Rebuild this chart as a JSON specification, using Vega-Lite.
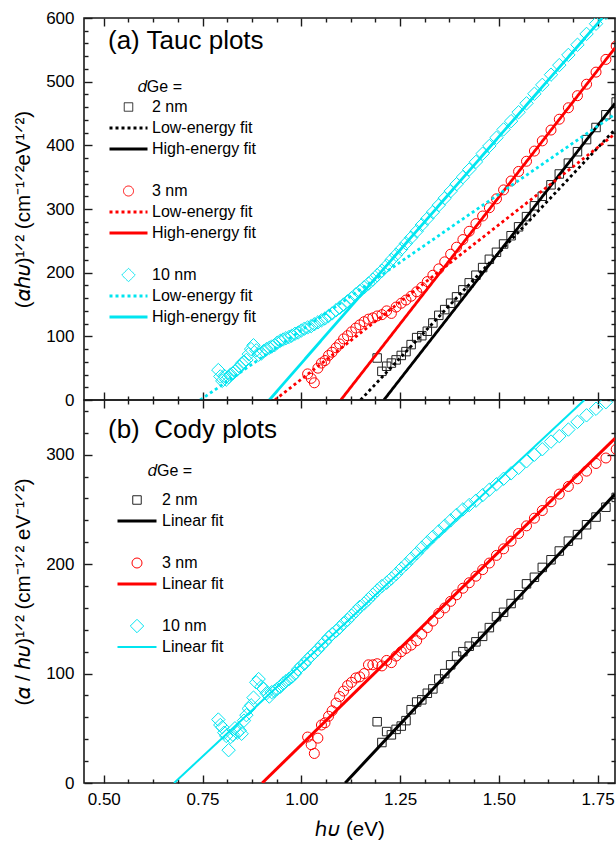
{
  "$schema": "https://vega.github.io/schema/vega-lite/v6.json",
  "padding": {"left": 12, "top": 8, "right": 0, "bottom": 2},
  "spacing": 0,
  "bounds": "flush",
  "config": {
    "font": "Liberation Sans",
    "view": {"stroke": "#1a1a1a", "strokeWidth": 1.6},
    "axis": {"grid": false, "domain": false, "tickColor": "#1a1a1a", "tickWidth": 1.4, "labelColor": "#000", "labelFontSize": 17, "labelFont": "Liberation Sans", "titleColor": "#000", "titleFontSize": 20.5, "titleFontWeight": "normal", "titleFont": "Liberation Sans"}
  },
  "resolve": {"scale": {"color": "independent", "shape": "independent", "size": "independent", "strokeDash": "independent", "strokeWidth": "independent"}},
  "datasets": {
    "tauc_pts": [
      {"E":1.797,"y":468,"s":"2 nm"},{"E":1.771,"y":448,"s":"2 nm"},{"E":1.746,"y":428,"s":"2 nm"},{"E":1.722,"y":409,"s":"2 nm"},{"E":1.699,"y":390,"s":"2 nm"},{"E":1.676,"y":372,"s":"2 nm"},{"E":1.653,"y":355,"s":"2 nm"},{"E":1.632,"y":338,"s":"2 nm"},{"E":1.610,"y":320,"s":"2 nm"},{"E":1.590,"y":305,"s":"2 nm"},{"E":1.570,"y":288,"s":"2 nm"},{"E":1.550,"y":272,"s":"2 nm"},{"E":1.531,"y":258,"s":"2 nm"},{"E":1.512,"y":245,"s":"2 nm"},{"E":1.494,"y":232,"s":"2 nm"},{"E":1.476,"y":221,"s":"2 nm"},{"E":1.459,"y":208,"s":"2 nm"},{"E":1.442,"y":196,"s":"2 nm"},{"E":1.425,"y":184,"s":"2 nm"},{"E":1.409,"y":173,"s":"2 nm"},{"E":1.393,"y":162,"s":"2 nm"},{"E":1.378,"y":152,"s":"2 nm"},{"E":1.363,"y":142,"s":"2 nm"},{"E":1.348,"y":133,"s":"2 nm"},{"E":1.333,"y":121,"s":"2 nm"},{"E":1.319,"y":108,"s":"2 nm"},{"E":1.305,"y":101,"s":"2 nm"},{"E":1.292,"y":98,"s":"2 nm"},{"E":1.278,"y":87,"s":"2 nm"},{"E":1.265,"y":76,"s":"2 nm"},{"E":1.253,"y":70,"s":"2 nm"},{"E":1.240,"y":63,"s":"2 nm"},{"E":1.228,"y":58,"s":"2 nm"},{"E":1.216,"y":53,"s":"2 nm"},{"E":1.204,"y":45,"s":"2 nm"},{"E":1.192,"y":66,"s":"2 nm"},
      {"E":1.797,"y":556,"s":"3 nm"},{"E":1.771,"y":535,"s":"3 nm"},{"E":1.746,"y":515,"s":"3 nm"},{"E":1.722,"y":496,"s":"3 nm"},{"E":1.699,"y":478,"s":"3 nm"},{"E":1.676,"y":459,"s":"3 nm"},{"E":1.653,"y":441,"s":"3 nm"},{"E":1.632,"y":424,"s":"3 nm"},{"E":1.610,"y":407,"s":"3 nm"},{"E":1.590,"y":391,"s":"3 nm"},{"E":1.570,"y":375,"s":"3 nm"},{"E":1.550,"y":359,"s":"3 nm"},{"E":1.531,"y":344,"s":"3 nm"},{"E":1.512,"y":330,"s":"3 nm"},{"E":1.494,"y":316,"s":"3 nm"},{"E":1.476,"y":302,"s":"3 nm"},{"E":1.459,"y":289,"s":"3 nm"},{"E":1.442,"y":277,"s":"3 nm"},{"E":1.425,"y":265,"s":"3 nm"},{"E":1.409,"y":252,"s":"3 nm"},{"E":1.393,"y":240,"s":"3 nm"},{"E":1.378,"y":229,"s":"3 nm"},{"E":1.363,"y":217,"s":"3 nm"},{"E":1.348,"y":206,"s":"3 nm"},{"E":1.333,"y":196,"s":"3 nm"},{"E":1.319,"y":186,"s":"3 nm"},{"E":1.305,"y":177,"s":"3 nm"},{"E":1.292,"y":170,"s":"3 nm"},{"E":1.278,"y":163,"s":"3 nm"},{"E":1.265,"y":157,"s":"3 nm"},{"E":1.253,"y":152,"s":"3 nm"},{"E":1.240,"y":146,"s":"3 nm"},{"E":1.228,"y":136,"s":"3 nm"},{"E":1.216,"y":140,"s":"3 nm"},{"E":1.204,"y":134,"s":"3 nm"},{"E":1.192,"y":132,"s":"3 nm"},{"E":1.181,"y":129,"s":"3 nm"},{"E":1.170,"y":127,"s":"3 nm"},{"E":1.159,"y":123,"s":"3 nm"},{"E":1.148,"y":118,"s":"3 nm"},{"E":1.138,"y":113,"s":"3 nm"},{"E":1.127,"y":107,"s":"3 nm"},{"E":1.117,"y":101,"s":"3 nm"},{"E":1.107,"y":96,"s":"3 nm"},{"E":1.097,"y":88,"s":"3 nm"},{"E":1.088,"y":82,"s":"3 nm"},{"E":1.078,"y":75,"s":"3 nm"},{"E":1.069,"y":70,"s":"3 nm"},{"E":1.060,"y":62,"s":"3 nm"},{"E":1.051,"y":58,"s":"3 nm"},{"E":1.042,"y":50,"s":"3 nm"},{"E":1.033,"y":27,"s":"3 nm"},{"E":1.025,"y":34,"s":"3 nm"},{"E":1.016,"y":41,"s":"3 nm"},
      {"E":1.797,"y":626,"s":"10 nm"},{"E":1.771,"y":608,"s":"10 nm"},{"E":1.746,"y":591,"s":"10 nm"},{"E":1.722,"y":575,"s":"10 nm"},{"E":1.699,"y":558,"s":"10 nm"},{"E":1.676,"y":542,"s":"10 nm"},{"E":1.653,"y":526,"s":"10 nm"},{"E":1.632,"y":511,"s":"10 nm"},{"E":1.610,"y":495,"s":"10 nm"},{"E":1.590,"y":481,"s":"10 nm"},{"E":1.570,"y":466,"s":"10 nm"},{"E":1.550,"y":452,"s":"10 nm"},{"E":1.531,"y":438,"s":"10 nm"},{"E":1.512,"y":425,"s":"10 nm"},{"E":1.494,"y":412,"s":"10 nm"},{"E":1.476,"y":399,"s":"10 nm"},{"E":1.459,"y":387,"s":"10 nm"},{"E":1.442,"y":374,"s":"10 nm"},{"E":1.425,"y":362,"s":"10 nm"},{"E":1.409,"y":350,"s":"10 nm"},{"E":1.393,"y":339,"s":"10 nm"},{"E":1.378,"y":328,"s":"10 nm"},{"E":1.363,"y":317,"s":"10 nm"},{"E":1.348,"y":306,"s":"10 nm"},{"E":1.333,"y":295,"s":"10 nm"},{"E":1.319,"y":285,"s":"10 nm"},{"E":1.305,"y":275,"s":"10 nm"},{"E":1.292,"y":265,"s":"10 nm"},{"E":1.278,"y":255,"s":"10 nm"},{"E":1.265,"y":246,"s":"10 nm"},{"E":1.253,"y":237,"s":"10 nm"},{"E":1.240,"y":228,"s":"10 nm"},{"E":1.228,"y":220,"s":"10 nm"},{"E":1.216,"y":211,"s":"10 nm"},{"E":1.204,"y":203,"s":"10 nm"},{"E":1.192,"y":196,"s":"10 nm"},{"E":1.181,"y":189,"s":"10 nm"},{"E":1.170,"y":183,"s":"10 nm"},{"E":1.159,"y":177,"s":"10 nm"},{"E":1.148,"y":171,"s":"10 nm"},{"E":1.138,"y":166,"s":"10 nm"},{"E":1.127,"y":160,"s":"10 nm"},{"E":1.117,"y":155,"s":"10 nm"},{"E":1.107,"y":150,"s":"10 nm"},{"E":1.097,"y":145,"s":"10 nm"},{"E":1.088,"y":141,"s":"10 nm"},{"E":1.078,"y":136,"s":"10 nm"},{"E":1.069,"y":132,"s":"10 nm"},{"E":1.060,"y":128,"s":"10 nm"},{"E":1.051,"y":125,"s":"10 nm"},{"E":1.042,"y":122,"s":"10 nm"},{"E":1.033,"y":119,"s":"10 nm"},{"E":1.025,"y":116,"s":"10 nm"},{"E":1.016,"y":114,"s":"10 nm"},{"E":1.008,"y":112,"s":"10 nm"},{"E":1.000,"y":109,"s":"10 nm"},{"E":0.992,"y":106,"s":"10 nm"},{"E":0.984,"y":104,"s":"10 nm"},{"E":0.976,"y":101,"s":"10 nm"},{"E":0.969,"y":99,"s":"10 nm"},{"E":0.961,"y":97,"s":"10 nm"},{"E":0.954,"y":95,"s":"10 nm"},{"E":0.947,"y":93,"s":"10 nm"},{"E":0.939,"y":90,"s":"10 nm"},{"E":0.932,"y":86,"s":"10 nm"},{"E":0.925,"y":84,"s":"10 nm"},{"E":0.919,"y":82,"s":"10 nm"},{"E":0.912,"y":80,"s":"10 nm"},{"E":0.905,"y":77,"s":"10 nm"},{"E":0.899,"y":73,"s":"10 nm"},{"E":0.892,"y":71,"s":"10 nm"},{"E":0.886,"y":78,"s":"10 nm"},{"E":0.879,"y":86,"s":"10 nm"},{"E":0.873,"y":80,"s":"10 nm"},{"E":0.867,"y":72,"s":"10 nm"},{"E":0.861,"y":63,"s":"10 nm"},{"E":0.855,"y":60,"s":"10 nm"},{"E":0.849,"y":57,"s":"10 nm"},{"E":0.844,"y":52,"s":"10 nm"},{"E":0.838,"y":48,"s":"10 nm"},{"E":0.832,"y":45,"s":"10 nm"},{"E":0.827,"y":42,"s":"10 nm"},{"E":0.821,"y":40,"s":"10 nm"},{"E":0.816,"y":36,"s":"10 nm"},{"E":0.810,"y":32,"s":"10 nm"},{"E":0.805,"y":38,"s":"10 nm"},{"E":0.800,"y":30,"s":"10 nm"},{"E":0.795,"y":37,"s":"10 nm"},{"E":0.790,"y":47,"s":"10 nm"}
    ],
    "tauc_fit": [
      {"E":1.150,"y":0,"k":"2 nm Low-energy fit"},{"E":1.794,"y":425,"k":"2 nm Low-energy fit"},
      {"E":1.209,"y":0,"k":"2 nm High-energy fit"},{"E":1.794,"y":466,"k":"2 nm High-energy fit"},
      {"E":0.933,"y":0,"k":"3 nm Low-energy fit"},{"E":1.794,"y":418,"k":"3 nm Low-energy fit"},
      {"E":1.100,"y":0,"k":"3 nm High-energy fit"},{"E":1.794,"y":553,"k":"3 nm High-energy fit"},
      {"E":0.744,"y":0,"k":"10 nm Low-energy fit"},{"E":1.794,"y":449,"k":"10 nm Low-energy fit"},
      {"E":0.919,"y":0,"k":"10 nm High-energy fit"},{"E":1.762,"y":600,"k":"10 nm High-energy fit"}
    ],
    "cody_pts": [
      {"E":1.797,"y":261,"s":"2 nm"},{"E":1.771,"y":252,"s":"2 nm"},{"E":1.746,"y":243,"s":"2 nm"},{"E":1.722,"y":236,"s":"2 nm"},{"E":1.699,"y":227,"s":"2 nm"},{"E":1.676,"y":221,"s":"2 nm"},{"E":1.653,"y":212,"s":"2 nm"},{"E":1.632,"y":204,"s":"2 nm"},{"E":1.610,"y":197,"s":"2 nm"},{"E":1.590,"y":188,"s":"2 nm"},{"E":1.570,"y":182,"s":"2 nm"},{"E":1.550,"y":172,"s":"2 nm"},{"E":1.531,"y":164,"s":"2 nm"},{"E":1.512,"y":156,"s":"2 nm"},{"E":1.494,"y":152,"s":"2 nm"},{"E":1.476,"y":142,"s":"2 nm"},{"E":1.459,"y":134,"s":"2 nm"},{"E":1.442,"y":129,"s":"2 nm"},{"E":1.425,"y":125,"s":"2 nm"},{"E":1.409,"y":120,"s":"2 nm"},{"E":1.393,"y":116,"s":"2 nm"},{"E":1.378,"y":108,"s":"2 nm"},{"E":1.363,"y":100,"s":"2 nm"},{"E":1.348,"y":95,"s":"2 nm"},{"E":1.333,"y":86,"s":"2 nm"},{"E":1.319,"y":82,"s":"2 nm"},{"E":1.305,"y":76,"s":"2 nm"},{"E":1.292,"y":74,"s":"2 nm"},{"E":1.278,"y":67,"s":"2 nm"},{"E":1.265,"y":57,"s":"2 nm"},{"E":1.253,"y":52,"s":"2 nm"},{"E":1.240,"y":49,"s":"2 nm"},{"E":1.228,"y":44,"s":"2 nm"},{"E":1.216,"y":47,"s":"2 nm"},{"E":1.204,"y":37,"s":"2 nm"},{"E":1.192,"y":56,"s":"2 nm"},
      {"E":1.797,"y":305,"s":"3 nm"},{"E":1.771,"y":297,"s":"3 nm"},{"E":1.746,"y":292,"s":"3 nm"},{"E":1.722,"y":285,"s":"3 nm"},{"E":1.699,"y":278,"s":"3 nm"},{"E":1.676,"y":271,"s":"3 nm"},{"E":1.653,"y":264,"s":"3 nm"},{"E":1.632,"y":257,"s":"3 nm"},{"E":1.610,"y":249,"s":"3 nm"},{"E":1.590,"y":242,"s":"3 nm"},{"E":1.570,"y":235,"s":"3 nm"},{"E":1.550,"y":228,"s":"3 nm"},{"E":1.531,"y":221,"s":"3 nm"},{"E":1.512,"y":214,"s":"3 nm"},{"E":1.494,"y":208,"s":"3 nm"},{"E":1.476,"y":201,"s":"3 nm"},{"E":1.459,"y":195,"s":"3 nm"},{"E":1.442,"y":189,"s":"3 nm"},{"E":1.425,"y":183,"s":"3 nm"},{"E":1.409,"y":178,"s":"3 nm"},{"E":1.393,"y":172,"s":"3 nm"},{"E":1.378,"y":166,"s":"3 nm"},{"E":1.363,"y":160,"s":"3 nm"},{"E":1.348,"y":155,"s":"3 nm"},{"E":1.333,"y":148,"s":"3 nm"},{"E":1.319,"y":142,"s":"3 nm"},{"E":1.305,"y":136,"s":"3 nm"},{"E":1.292,"y":130,"s":"3 nm"},{"E":1.278,"y":126,"s":"3 nm"},{"E":1.265,"y":123,"s":"3 nm"},{"E":1.253,"y":120,"s":"3 nm"},{"E":1.240,"y":116,"s":"3 nm"},{"E":1.228,"y":110,"s":"3 nm"},{"E":1.216,"y":112,"s":"3 nm"},{"E":1.204,"y":107,"s":"3 nm"},{"E":1.192,"y":109,"s":"3 nm"},{"E":1.181,"y":108,"s":"3 nm"},{"E":1.170,"y":108,"s":"3 nm"},{"E":1.159,"y":100,"s":"3 nm"},{"E":1.148,"y":97,"s":"3 nm"},{"E":1.138,"y":96,"s":"3 nm"},{"E":1.127,"y":92,"s":"3 nm"},{"E":1.117,"y":89,"s":"3 nm"},{"E":1.107,"y":84,"s":"3 nm"},{"E":1.097,"y":79,"s":"3 nm"},{"E":1.088,"y":73,"s":"3 nm"},{"E":1.078,"y":66,"s":"3 nm"},{"E":1.069,"y":61,"s":"3 nm"},{"E":1.060,"y":55,"s":"3 nm"},{"E":1.051,"y":53,"s":"3 nm"},{"E":1.042,"y":41,"s":"3 nm"},{"E":1.033,"y":27,"s":"3 nm"},{"E":1.025,"y":35,"s":"3 nm"},{"E":1.016,"y":42,"s":"3 nm"},
      {"E":1.797,"y":355,"s":"10 nm"},{"E":1.771,"y":348,"s":"10 nm"},{"E":1.746,"y":342,"s":"10 nm"},{"E":1.722,"y":336,"s":"10 nm"},{"E":1.699,"y":330,"s":"10 nm"},{"E":1.676,"y":323,"s":"10 nm"},{"E":1.653,"y":317,"s":"10 nm"},{"E":1.632,"y":312,"s":"10 nm"},{"E":1.610,"y":305,"s":"10 nm"},{"E":1.590,"y":300,"s":"10 nm"},{"E":1.570,"y":294,"s":"10 nm"},{"E":1.550,"y":288,"s":"10 nm"},{"E":1.531,"y":283,"s":"10 nm"},{"E":1.512,"y":278,"s":"10 nm"},{"E":1.494,"y":273,"s":"10 nm"},{"E":1.476,"y":268,"s":"10 nm"},{"E":1.459,"y":263,"s":"10 nm"},{"E":1.442,"y":258,"s":"10 nm"},{"E":1.425,"y":254,"s":"10 nm"},{"E":1.409,"y":250,"s":"10 nm"},{"E":1.393,"y":245,"s":"10 nm"},{"E":1.378,"y":240,"s":"10 nm"},{"E":1.363,"y":235,"s":"10 nm"},{"E":1.348,"y":230,"s":"10 nm"},{"E":1.333,"y":225,"s":"10 nm"},{"E":1.319,"y":220,"s":"10 nm"},{"E":1.305,"y":215,"s":"10 nm"},{"E":1.292,"y":210,"s":"10 nm"},{"E":1.278,"y":205,"s":"10 nm"},{"E":1.265,"y":200,"s":"10 nm"},{"E":1.253,"y":196,"s":"10 nm"},{"E":1.240,"y":191,"s":"10 nm"},{"E":1.228,"y":187,"s":"10 nm"},{"E":1.216,"y":183,"s":"10 nm"},{"E":1.204,"y":180,"s":"10 nm"},{"E":1.192,"y":176,"s":"10 nm"},{"E":1.181,"y":172,"s":"10 nm"},{"E":1.170,"y":168,"s":"10 nm"},{"E":1.159,"y":164,"s":"10 nm"},{"E":1.148,"y":161,"s":"10 nm"},{"E":1.138,"y":157,"s":"10 nm"},{"E":1.127,"y":153,"s":"10 nm"},{"E":1.117,"y":149,"s":"10 nm"},{"E":1.107,"y":146,"s":"10 nm"},{"E":1.097,"y":142,"s":"10 nm"},{"E":1.088,"y":139,"s":"10 nm"},{"E":1.078,"y":136,"s":"10 nm"},{"E":1.069,"y":133,"s":"10 nm"},{"E":1.060,"y":129,"s":"10 nm"},{"E":1.051,"y":126,"s":"10 nm"},{"E":1.042,"y":122,"s":"10 nm"},{"E":1.033,"y":119,"s":"10 nm"},{"E":1.025,"y":116,"s":"10 nm"},{"E":1.016,"y":113,"s":"10 nm"},{"E":1.008,"y":109,"s":"10 nm"},{"E":1.000,"y":107,"s":"10 nm"},{"E":0.992,"y":104,"s":"10 nm"},{"E":0.984,"y":100,"s":"10 nm"},{"E":0.976,"y":97,"s":"10 nm"},{"E":0.969,"y":95,"s":"10 nm"},{"E":0.961,"y":93,"s":"10 nm"},{"E":0.954,"y":91,"s":"10 nm"},{"E":0.947,"y":88,"s":"10 nm"},{"E":0.939,"y":86,"s":"10 nm"},{"E":0.932,"y":84,"s":"10 nm"},{"E":0.925,"y":83,"s":"10 nm"},{"E":0.919,"y":79,"s":"10 nm"},{"E":0.912,"y":82,"s":"10 nm"},{"E":0.905,"y":86,"s":"10 nm"},{"E":0.899,"y":88,"s":"10 nm"},{"E":0.892,"y":95,"s":"10 nm"},{"E":0.886,"y":92,"s":"10 nm"},{"E":0.879,"y":78,"s":"10 nm"},{"E":0.873,"y":71,"s":"10 nm"},{"E":0.867,"y":68,"s":"10 nm"},{"E":0.861,"y":62,"s":"10 nm"},{"E":0.855,"y":57,"s":"10 nm"},{"E":0.849,"y":45,"s":"10 nm"},{"E":0.844,"y":48,"s":"10 nm"},{"E":0.838,"y":46,"s":"10 nm"},{"E":0.832,"y":50,"s":"10 nm"},{"E":0.827,"y":44,"s":"10 nm"},{"E":0.821,"y":42,"s":"10 nm"},{"E":0.816,"y":30,"s":"10 nm"},{"E":0.810,"y":43,"s":"10 nm"},{"E":0.805,"y":46,"s":"10 nm"},{"E":0.800,"y":51,"s":"10 nm"},{"E":0.795,"y":53,"s":"10 nm"},{"E":0.790,"y":58,"s":"10 nm"}
    ],
    "cody_fit": [
      {"E":1.111,"y":0,"k":"2 nm Linear fit"},{"E":1.794,"y":264,"k":"2 nm Linear fit"},
      {"E":0.901,"y":0,"k":"3 nm Linear fit"},{"E":1.794,"y":315,"k":"3 nm Linear fit"},
      {"E":0.678,"y":0,"k":"10 nm Linear fit"},{"E":1.7165,"y":350,"k":"10 nm Linear fit"}
    ]
  },
  "vconcat": [
    {
      "width": 531,
      "height": 382,
      "title": {"text": "(a) Tauc plots", "anchor": "start", "frame": "group", "orient": "top", "offset": -45, "dx": 24, "fontSize": 26, "fontWeight": "normal", "font": "Liberation Sans", "color": "#000"},
      "resolve": {"axis": {"x": "independent", "y": "independent"}},
      "layer": [
        {
          "data": {"name": "tauc_pts"},
          "mark": {"type": "point", "filled": false, "clip": true, "opacity": 1},
          "encoding": {
            "x": {"field": "E", "type": "quantitative", "scale": {"domain": [0.45, 1.794], "nice": false, "zero": false},
                  "axis": {"orient": "bottom", "values": [0.5, 0.75, 1, 1.25, 1.5, 1.75], "labels": false, "tickSize": -8, "title": null}},
            "y": {"field": "y", "type": "quantitative", "scale": {"domain": [0, 600], "nice": false, "zero": false},
                  "axis": {"orient": "left", "values": [0, 100, 200, 300, 400, 500, 600], "tickSize": -8, "labelPadding": 18, "format": "d", "title": "(𝛼ℎ𝜐)¹ᐟ² (cm⁻¹ᐟ²eV¹ᐟ²)", "titlePadding": 12}},
            "color": {"field": "s", "type": "nominal",
              "scale": {"domain": ["2 nm", "2 nm Low-energy fit", "2 nm High-energy fit", "gap1", "3 nm", "3 nm Low-energy fit", "3 nm High-energy fit", "gap2", "10 nm", "10 nm Low-energy fit", "10 nm High-energy fit"],
                        "range": ["#222222", "#000000", "#000000", "#ffffff", "#ff0000", "#ff0000", "#ff0000", "#ffffff", "#00e5f0", "#00e5f0", "#00e5f0"]},
              "legend": {
                "title": "𝑑Ge =", "orient": "none", "legendX": 24, "legendY": 61, "columns": 1,
                "titleAnchor": "middle", "titleAlign": "right",
                "titleFontSize": 16, "titleFontWeight": "normal", "titleFont": "Liberation Sans", "titleColor": "#000", "titlePadding": 4,
                "labelFontSize": 16, "labelFont": "Liberation Sans", "labelColor": "#000", "labelOffset": 3, "labelLimit": 300,
                "clipHeight": 16, "rowPadding": 5, "padding": 0,
                "labelExpr": "indexof(datum.value, 'gap') === 0 ? ' ' : indexof(datum.value, 'Low') >= 0 ? 'Low-energy fit' : indexof(datum.value, 'High') >= 0 ? 'High-energy fit' : datum.label"
              }
            },
            "shape": {"field": "s", "type": "nominal",
              "scale": {"domain": ["2 nm", "2 nm Low-energy fit", "2 nm High-energy fit", "gap1", "3 nm", "3 nm Low-energy fit", "3 nm High-energy fit", "gap2", "10 nm", "10 nm Low-energy fit", "10 nm High-energy fit"],
                        "range": ["square", "M-1,0L1,0", "M-1,0L1,0", "square", "circle", "M-1,0L1,0", "M-1,0L1,0", "square", "diamond", "M-1,0L1,0", "M-1,0L1,0"]}},
            "size": {"field": "s", "type": "nominal",
              "scale": {"type": "ordinal", "domain": ["2 nm", "2 nm Low-energy fit", "2 nm High-energy fit", "gap1", "3 nm", "3 nm Low-energy fit", "3 nm High-energy fit", "gap2", "10 nm", "10 nm Low-energy fit", "10 nm High-energy fit"],
                        "range": [72, 1444, 1444, 0, 100, 1444, 1444, 0, 180, 1444, 1444]}},
            "strokeWidth": {"field": "s", "type": "nominal",
              "scale": {"type": "ordinal", "domain": ["2 nm", "2 nm Low-energy fit", "2 nm High-energy fit", "gap1", "3 nm", "3 nm Low-energy fit", "3 nm High-energy fit", "gap2", "10 nm", "10 nm Low-energy fit", "10 nm High-energy fit"],
                        "range": [1, 3, 3, 1, 1, 3, 3, 1, 1, 3, 3]}}
          }
        },
        {
          "data": {"name": "tauc_fit"},
          "mark": {"type": "line", "clip": true, "strokeWidth": 2.8},
          "encoding": {
            "x": {"field": "E", "type": "quantitative", "scale": {"domain": [0.45, 1.794], "nice": false, "zero": false},
                  "axis": {"orient": "bottom", "values": [0.5625, 0.625, 0.6875, 0.8125, 0.875, 0.9375, 1.0625, 1.125, 1.1875, 1.3125, 1.375, 1.4375, 1.5625, 1.625, 1.6875], "labels": false, "tickSize": -4, "title": null}},
            "y": {"field": "y", "type": "quantitative", "scale": {"domain": [0, 600], "nice": false, "zero": false},
                  "axis": {"orient": "left", "values": [20,40,60,80,120,140,160,180,220,240,260,280,320,340,360,380,420,440,460,480,520,540,560,580], "labels": false, "tickSize": -4, "title": null}},
            "color": {"field": "k", "type": "nominal", "legend": null},
            "strokeDash": {"field": "k", "type": "nominal",
              "scale": {"domain": ["2 nm", "2 nm Low-energy fit", "2 nm High-energy fit", "gap1", "3 nm", "3 nm Low-energy fit", "3 nm High-energy fit", "gap2", "10 nm", "10 nm Low-energy fit", "10 nm High-energy fit"],
                        "range": [[1, 0], [3, 3], [1, 0], [1, 0], [1, 0], [3, 3], [1, 0], [1, 0], [1, 0], [3, 3], [1, 0]]}}
          }
        },
        {
          "data": {"name": "tauc_fit"},
          "mark": {"type": "point", "opacity": 0},
          "encoding": {
            "x": {"field": "E", "type": "quantitative", "scale": {"domain": [0.45, 1.794], "nice": false, "zero": false},
                  "axis": {"orient": "top", "values": [0.5, 0.75, 1, 1.25, 1.5, 1.75], "labels": false, "tickSize": -8, "title": null}},
            "y": {"field": "y", "type": "quantitative", "scale": {"domain": [0, 600], "nice": false, "zero": false},
                  "axis": {"orient": "right", "values": [0, 100, 200, 300, 400, 500, 600], "labels": false, "tickSize": -8, "title": null}}
          }
        },
        {
          "data": {"name": "tauc_fit"},
          "mark": {"type": "point", "opacity": 0},
          "encoding": {
            "x": {"field": "E", "type": "quantitative", "scale": {"domain": [0.45, 1.794], "nice": false, "zero": false},
                  "axis": {"orient": "top", "values": [0.5625, 0.625, 0.6875, 0.8125, 0.875, 0.9375, 1.0625, 1.125, 1.1875, 1.3125, 1.375, 1.4375, 1.5625, 1.625, 1.6875], "labels": false, "tickSize": -4, "title": null}},
            "y": {"field": "y", "type": "quantitative", "scale": {"domain": [0, 600], "nice": false, "zero": false},
                  "axis": {"orient": "right", "values": [20,40,60,80,120,140,160,180,220,240,260,280,320,340,360,380,420,440,460,480,520,540,560,580], "labels": false, "tickSize": -4, "title": null}}
          }
        }
      ]
    },
    {
      "width": 531,
      "height": 383,
      "title": {"text": "(b)\u00a0 Cody plots", "anchor": "start", "frame": "group", "orient": "top", "offset": -46, "dx": 24, "fontSize": 26, "fontWeight": "normal", "font": "Liberation Sans", "color": "#000"},
      "resolve": {"axis": {"x": "independent", "y": "independent"}},
      "layer": [
        {
          "data": {"name": "cody_pts"},
          "mark": {"type": "point", "filled": false, "clip": true, "opacity": 1},
          "encoding": {
            "x": {"field": "E", "type": "quantitative", "scale": {"domain": [0.45, 1.794], "nice": false, "zero": false},
                  "axis": {"orient": "bottom", "values": [0.5, 0.75, 1, 1.25, 1.5, 1.75], "labels": true, "format": ".2f", "tickSize": -8, "labelPadding": 16.5, "title": "ℎ𝜐 (eV)", "titlePadding": 12}},
            "y": {"field": "y", "type": "quantitative", "scale": {"domain": [0, 350], "nice": false, "zero": false},
                  "axis": {"orient": "left", "values": [0, 100, 200, 300], "tickSize": -8, "labelPadding": 18, "format": "d", "title": "(𝛼 / ℎ𝜐)¹ᐟ² (cm⁻¹ᐟ² eV⁻¹ᐟ²)", "titlePadding": 12}},
            "color": {"field": "s", "type": "nominal",
              "scale": {"domain": ["2 nm", "2 nm Linear fit", "gap1", "3 nm", "3 nm Linear fit", "gap2", "10 nm", "10 nm Linear fit"],
                        "range": ["#222222", "#000000", "#ffffff", "#ff0000", "#ff0000", "#ffffff", "#00e5f0", "#00e5f0"]},
              "legend": {
                "title": "𝑑Ge =", "orient": "none", "legendX": 32, "legendY": 63, "columns": 1,
                "titleAnchor": "middle", "titleAlign": "center",
                "titleFontSize": 16, "titleFontWeight": "normal", "titleFont": "Liberation Sans", "titleColor": "#000", "titlePadding": 13,
                "labelFontSize": 16, "labelFont": "Liberation Sans", "labelColor": "#000", "labelOffset": 4, "labelLimit": 300,
                "clipHeight": 16, "rowPadding": 5, "padding": 0,
                "labelExpr": "indexof(datum.value, 'gap') === 0 ? ' ' : indexof(datum.value, 'Linear') >= 0 ? 'Linear fit' : datum.label"
              }
            },
            "shape": {"field": "s", "type": "nominal",
              "scale": {"domain": ["2 nm", "2 nm Linear fit", "gap1", "3 nm", "3 nm Linear fit", "gap2", "10 nm", "10 nm Linear fit"],
                        "range": ["square", "M-1,0L1,0", "square", "circle", "M-1,0L1,0", "square", "diamond", "M-1,0L1,0"]}},
            "size": {"field": "s", "type": "nominal",
              "scale": {"type": "ordinal", "domain": ["2 nm", "2 nm Linear fit", "gap1", "3 nm", "3 nm Linear fit", "gap2", "10 nm", "10 nm Linear fit"],
                        "range": [72, 1521, 0, 100, 1521, 0, 180, 1521]}},
            "strokeWidth": {"field": "s", "type": "nominal",
              "scale": {"type": "ordinal", "domain": ["2 nm", "2 nm Linear fit", "gap1", "3 nm", "3 nm Linear fit", "gap2", "10 nm", "10 nm Linear fit"],
                        "range": [1, 3, 1, 1, 3, 1, 1, 2]}}
          }
        },
        {
          "data": {"name": "cody_fit"},
          "mark": {"type": "line", "clip": true},
          "encoding": {
            "x": {"field": "E", "type": "quantitative", "scale": {"domain": [0.45, 1.794], "nice": false, "zero": false},
                  "axis": {"orient": "bottom", "values": [0.5625, 0.625, 0.6875, 0.8125, 0.875, 0.9375, 1.0625, 1.125, 1.1875, 1.3125, 1.375, 1.4375, 1.5625, 1.625, 1.6875], "labels": false, "tickSize": -4, "title": null}},
            "y": {"field": "y", "type": "quantitative", "scale": {"domain": [0, 350], "nice": false, "zero": false},
                  "axis": {"orient": "left", "values": [20,40,60,80,120,140,160,180,220,240,260,280,320,340], "labels": false, "tickSize": -4, "title": null}},
            "color": {"field": "k", "type": "nominal", "legend": null},
            "strokeWidth": {"field": "k", "type": "nominal", "legend": null,
              "scale": {"type": "ordinal", "domain": ["2 nm", "2 nm Linear fit", "gap1", "3 nm", "3 nm Linear fit", "gap2", "10 nm", "10 nm Linear fit"],
                        "range": [1, 3, 1, 1, 3, 1, 1, 2]}}
          }
        },
        {
          "data": {"name": "cody_fit"},
          "mark": {"type": "point", "opacity": 0},
          "encoding": {
            "x": {"field": "E", "type": "quantitative", "scale": {"domain": [0.45, 1.794], "nice": false, "zero": false},
                  "axis": {"orient": "top", "values": [0.5, 0.75, 1, 1.25, 1.5, 1.75], "labels": false, "tickSize": -8, "title": null}},
            "y": {"field": "y", "type": "quantitative", "scale": {"domain": [0, 350], "nice": false, "zero": false},
                  "axis": {"orient": "right", "values": [0, 100, 200, 300], "labels": false, "tickSize": -8, "title": null}}
          }
        },
        {
          "data": {"name": "cody_fit"},
          "mark": {"type": "point", "opacity": 0},
          "encoding": {
            "x": {"field": "E", "type": "quantitative", "scale": {"domain": [0.45, 1.794], "nice": false, "zero": false},
                  "axis": {"orient": "top", "values": [0.5625, 0.625, 0.6875, 0.8125, 0.875, 0.9375, 1.0625, 1.125, 1.1875, 1.3125, 1.375, 1.4375, 1.5625, 1.625, 1.6875], "labels": false, "tickSize": -4, "title": null}},
            "y": {"field": "y", "type": "quantitative", "scale": {"domain": [0, 350], "nice": false, "zero": false},
                  "axis": {"orient": "right", "values": [20,40,60,80,120,140,160,180,220,240,260,280,320,340], "labels": false, "tickSize": -4, "title": null}}
          }
        }
      ]
    }
  ]
}
